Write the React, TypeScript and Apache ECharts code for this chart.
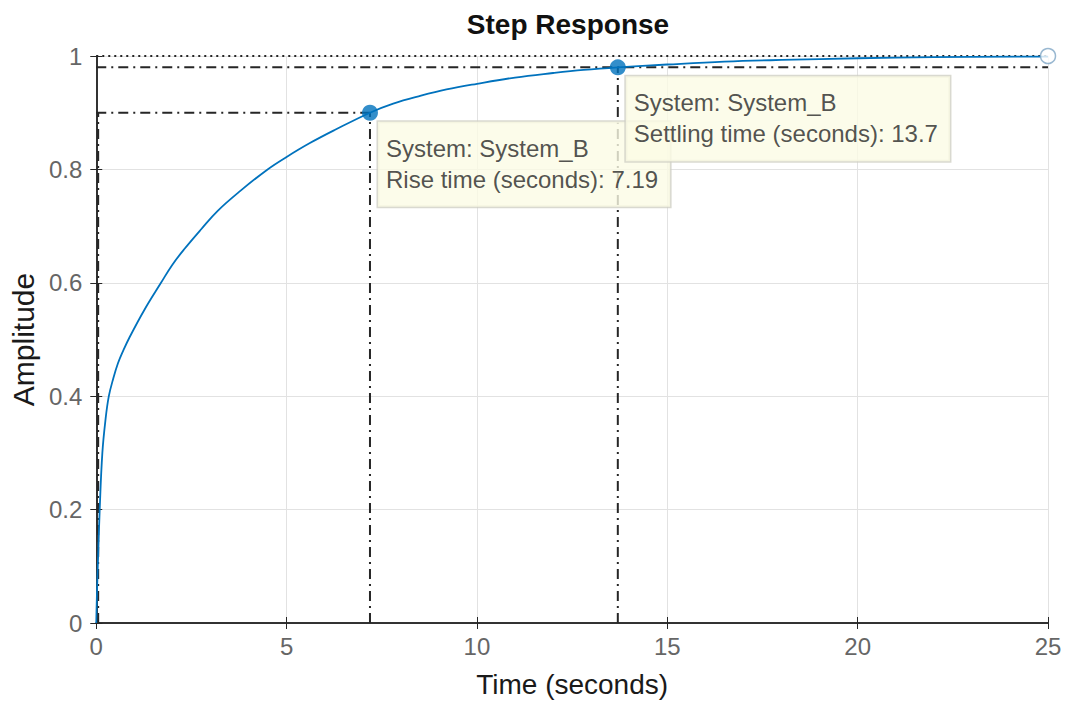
import React, { useEffect, useRef } from "react";
import * as echarts from "echarts";

const timeS = [0, 0.01, 0.03, 0.05, 0.09, 0.16, 0.24, 0.33, 0.45, 0.57, 0.7, 0.875, 1.27, 1.7, 2.0, 2.32, 2.75, 3.19, 3.8, 4.5, 5.0, 5.6, 6.25, 7.19, 7.8, 8.53, 9.2, 10, 11, 12, 12.8, 13.7, 15, 16.5, 18, 20, 22, 25];
const amplitude = [0, 0.03, 0.08, 0.12, 0.2, 0.3, 0.357, 0.4, 0.432, 0.458, 0.479, 0.504, 0.553, 0.6, 0.632, 0.66, 0.694, 0.727, 0.763, 0.8, 0.822, 0.846, 0.869, 0.9, 0.916, 0.93, 0.941, 0.951, 0.962, 0.97, 0.9755, 0.98, 0.985, 0.99, 0.993, 0.996, 0.998, 0.999];

const xTicks = [0, 5, 10, 15, 20, 25];
const yTicks = [0, 0.2, 0.4, 0.6, 0.8, 1];

const systemName = "System_B";
const riseStartTime = 0.05;
const riseTime = 7.19;
const riseLevel = 0.9;
const settlingTime = 13.7;
const settlingLevel = 0.98;
const finalValue = 1;
const endTime = 25;

const FONT = "Liberation Sans, Arial, sans-serif";
const BLUE = "#0072BD";
const DASHDOT = [10, 5, 2, 5];
const AXIS = "#262626";

export default function App() {
  const ref = useRef<HTMLDivElement>(null);
  useEffect(() => {
    if (!ref.current) return;
    const chart = echarts.init(ref.current, undefined, { renderer: "svg" });
    const refLine = (data: number[][], type: any = DASHDOT) => ({
      type: "line",
      data,
      symbol: "none",
      silent: true,
      lineStyle: { color: "#262626", width: 2, type },
      z: 2,
    });
    const labelBase = {
      show: true,
      position: [16, 17],
      align: "left",
      verticalAlign: "top",
      fontFamily: FONT,
      fontSize: 24,
      lineHeight: 31,
      color: "#262626",
      backgroundColor: "#fbfbe5",
      borderColor: "#cfcfc4",
      borderWidth: 1.5,
      padding: [11, 12, 12, 8],
    };
    chart.setOption({
      animation: false,
      title: {
        text: "Step Response",
        left: 563,
        top: 5,
        textAlign: "center",
        textStyle: { fontFamily: FONT, fontSize: 28, fontWeight: "bold", color: "#111" },
      },
      grid: { left: 95, right: 21, top: 56, bottom: 82 },
      xAxis: [
        {
          type: "value",
          min: xTicks[0],
          max: xTicks[xTicks.length - 1],
          interval: 5,
          position: "bottom",
          axisLine: { lineStyle: { color: AXIS, width: 1.5 } },
          axisTick: { inside: true, length: 6, lineStyle: { color: AXIS } },
          axisLabel: { fontFamily: FONT, fontSize: 24, color: "#666", margin: 11 },
          splitLine: { show: true, lineStyle: { color: "#e2e2e2", width: 1 } },
          name: "Time (seconds)",
          nameLocation: "middle",
          nameGap: 47,
          nameTextStyle: { fontFamily: FONT, fontSize: 28, color: "#1a1a1a" },
        },
        {
          type: "value",
          min: xTicks[0],
          max: xTicks[xTicks.length - 1],
          interval: 5,
          position: "top",
          axisLine: { show: true, lineStyle: { color: AXIS, width: 1.5 } },
          axisTick: { show: true, inside: true, length: 6, lineStyle: { color: AXIS } },
          axisLabel: { show: false },
          splitLine: { show: false },
        },
      ],
      yAxis: [
        {
          type: "value",
          min: yTicks[0],
          max: yTicks[yTicks.length - 1],
          interval: 0.2,
          position: "left",
          axisLine: { show: true, lineStyle: { color: AXIS, width: 1.5 } },
          axisTick: { show: true, inside: true, length: 6, lineStyle: { color: AXIS } },
          axisLabel: {
            fontFamily: FONT,
            fontSize: 24,
            color: "#666",
            margin: 14,
            formatter: (v: number) => String(Math.round(v * 10) / 10),
          },
          splitLine: { show: true, lineStyle: { color: "#e2e2e2", width: 1 } },
          name: "Amplitude",
          nameLocation: "middle",
          nameGap: 55,
          nameTextStyle: { fontFamily: FONT, fontSize: 30, color: "#1a1a1a" },
        },
        {
          type: "value",
          min: yTicks[0],
          max: yTicks[yTicks.length - 1],
          interval: 0.2,
          position: "right",
          axisLine: { show: true, lineStyle: { color: AXIS, width: 1.5 } },
          axisTick: { show: true, inside: true, length: 6, lineStyle: { color: AXIS } },
          axisLabel: { show: false },
          splitLine: { show: false },
        },
      ],
      series: [
        refLine([[0, finalValue], [endTime, finalValue]], [2, 4]),
        refLine([[0, riseLevel], [riseTime, riseLevel]]),
        refLine([[riseStartTime, 0], [riseStartTime, riseLevel]]),
        refLine([[riseTime, 0], [riseTime, riseLevel]]),
        refLine([[0, settlingLevel], [endTime, settlingLevel]]),
        refLine([[settlingTime, 0], [settlingTime, settlingLevel]]),
        {
          type: "line",
          data: timeS.map((t, i) => [t, amplitude[i]]),
          symbol: "none",
          smooth: 0.4,
          lineStyle: { color: BLUE, width: 1.8 },
          z: 3,
        },
        {
          type: "scatter",
          data: [[endTime, finalValue]],
          symbol: "circle",
          symbolSize: 15,
          itemStyle: { color: "#ffffff", borderColor: "#7fa6c6", borderWidth: 1.5 },
          z: 4,
        },
        {
          type: "scatter",
          symbolSize: 16,
          itemStyle: { color: BLUE },
          z: 5,
          data: [
            {
              value: [riseTime, riseLevel],
              label: {
                ...labelBase,
                formatter: `System: ${systemName}\nRise time (seconds): ${riseTime}`,
              },
            },
            {
              value: [settlingTime, settlingLevel],
              label: {
                ...labelBase,
                formatter: `System: ${systemName}\nSettling time (seconds): ${settlingTime}`,
              },
            },
          ],
        },
      ],
    });
    return () => chart.dispose();
  }, []);
  return (
    <div
      ref={ref}
      style={{ position: "fixed", left: 0, top: 0, width: 1069, height: 705, background: "#fff" }}
    />
  );
}
